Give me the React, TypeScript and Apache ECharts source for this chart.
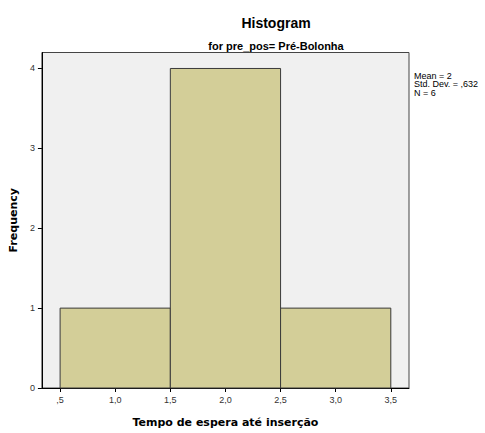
import React, { useEffect, useRef } from "react";
import * as echarts from "echarts";

const binStarts = [0.5, 1.5, 2.5];
const binEnds = [1.5, 2.5, 3.5];
const frequencies = [1, 4, 1];
const xTicks = [0.5, 1.0, 1.5, 2.0, 2.5, 3.0, 3.5];
const yTicks = [0, 1, 2, 3, 4];
const statsLines = ["Mean = 2", "Std. Dev. = ,632", "N = 6"];

const fmtX = (v: number) => v.toFixed(1).replace(".", ",").replace(/^0/, "");

export default function App() {
  const ref = useRef<HTMLDivElement>(null);
  useEffect(() => {
    document.body.style.margin = "0";
    if (!ref.current) return;
    const chart = echarts.init(ref.current, null, { renderer: "svg" });
    const data = binStarts.map((s, i) => [s, binEnds[i], frequencies[i]]);
    chart.setOption({
      animation: false,
      backgroundColor: "#ffffff",
      title: [
        {
          text: "Histogram",
          left: 271,
          top: 11,
          textAlign: "center",
          textStyle: { fontFamily: "Liberation Sans, Arial", fontSize: 14, fontWeight: "bold", color: "#000" },
        },
        {
          text: "for pre_pos= Pré-Bolonha",
          left: 271,
          top: 34,
          textAlign: "center",
          textStyle: { fontFamily: "Liberation Sans, Arial", fontSize: 11, fontWeight: "bold", color: "#000", lineHeight: 14 },
        },
      ],
      grid: {
        left: 41.5,
        right: 76,
        top: 52.5,
        bottom: 44,
        show: true,
        backgroundColor: "#F0F0F0",
        borderColor: "#444",
        borderWidth: 1,
      },
      xAxis: {
        type: "value",
        min: 0.335,
        max: 3.665,
        name: "Tempo de espera até inserção",
        nameLocation: "middle",
        nameGap: 29,
        nameTextStyle: { fontFamily: "DejaVu Sans", fontSize: 11, fontWeight: "bold", color: "#000" },
        axisLine: { show: true, lineStyle: { color: "#000", width: 1 } },
        axisTick: { show: true, length: 4, customValues: xTicks, lineStyle: { color: "#000" } },
        axisLabel: {
          customValues: xTicks,
          formatter: (v: number) => fmtX(v),
          fontFamily: "Liberation Sans, Arial",
          fontSize: 9,
          color: "#333",
          margin: 7,
        },
        splitLine: { show: false },
      },
      yAxis: {
        type: "value",
        min: 0,
        max: 4.2,
        name: "Frequency",
        nameLocation: "middle",
        nameGap: 22,
        nameTextStyle: { fontFamily: "DejaVu Sans", fontSize: 11, fontWeight: "bold", color: "#000" },
        axisLine: { show: true, lineStyle: { color: "#000", width: 1 } },
        axisTick: { show: true, length: 4, customValues: yTicks, lineStyle: { color: "#000" } },
        axisLabel: {
          customValues: yTicks,
          formatter: (v: number) => String(v),
          fontFamily: "Liberation Sans, Arial",
          fontSize: 9,
          color: "#333",
          margin: 7,
        },
        splitLine: { show: false },
      },
      series: [
        {
          type: "custom",
          data,
          encode: { x: [0, 1], y: 2 },
          renderItem: (params: any, api: any) => {
            const p0 = api.coord([api.value(0), api.value(2)]);
            const p1 = api.coord([api.value(1), 0]);
            return {
              type: "rect",
              shape: { x: p0[0], y: p0[1], width: p1[0] - p0[0], height: p1[1] - p0[1] },
              style: { fill: "#D3CE98", stroke: "#3a3a3a", lineWidth: 1 },
            };
          },
        },
      ],
      graphic: [
        {
          type: "text",
          left: 414,
          top: 71,
          style: {
            text: statsLines.join("\n"),
            fontFamily: "Liberation Sans, Arial",
            fontSize: 9,
            lineHeight: 8.5,
            fill: "#000",
          },
        },
      ],
    });
    return () => chart.dispose();
  }, []);
  return <div ref={ref} style={{ width: 485, height: 433 }} />;
}
